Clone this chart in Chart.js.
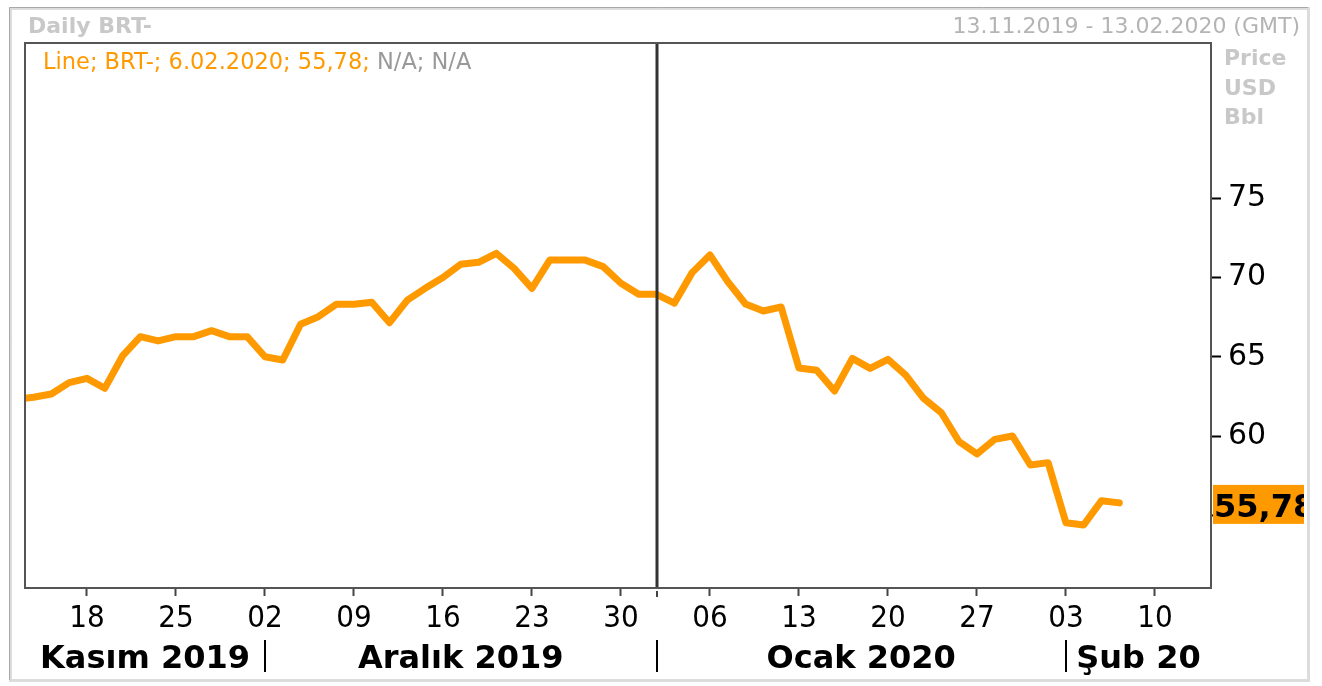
<!DOCTYPE html>
<html lang="tr">
<head>
<meta charset="UTF-8">
<title>Daily BRT-</title>
<script src="https://cdn.jsdelivr.net/npm/chart.js"></script>
<style>
    body { margin: 0; background: #fff; }
    #wrap { width: 1322px; height: 686px; position: relative; }
</style>
</head>
<body>
<div id="wrap"><canvas id="grafico"></canvas></div>

<script>
    // trading days (weekdays, holidays included) and BRT- closing price
    const dias = [
        '2019-11-12', '2019-11-13', '2019-11-14', '2019-11-15',
        '2019-11-18', '2019-11-19', '2019-11-20', '2019-11-21', '2019-11-22',
        '2019-11-25', '2019-11-26', '2019-11-27', '2019-11-28', '2019-11-29',
        '2019-12-02', '2019-12-03', '2019-12-04', '2019-12-05', '2019-12-06',
        '2019-12-09', '2019-12-10', '2019-12-11', '2019-12-12', '2019-12-13',
        '2019-12-16', '2019-12-17', '2019-12-18', '2019-12-19', '2019-12-20',
        '2019-12-23', '2019-12-24', '2019-12-25', '2019-12-26', '2019-12-27',
        '2019-12-30', '2019-12-31', '2020-01-01', '2020-01-02', '2020-01-03',
        '2020-01-06', '2020-01-07', '2020-01-08', '2020-01-09', '2020-01-10',
        '2020-01-13', '2020-01-14', '2020-01-15', '2020-01-16', '2020-01-17',
        '2020-01-20', '2020-01-21', '2020-01-22', '2020-01-23', '2020-01-24',
        '2020-01-27', '2020-01-28', '2020-01-29', '2020-01-30', '2020-01-31',
        '2020-02-03', '2020-02-04', '2020-02-05', '2020-02-06'
    ];
    const precos = [
        62.30, 62.45, 62.65, 63.37,
        63.64, 63.01, 65.05, 66.27, 66.00,
        66.27, 66.27, 66.65, 66.27, 66.27,
        65.00, 64.80, 67.05, 67.53, 68.31,
        68.31, 68.44, 67.15, 68.58, 69.32,
        70.00, 70.84, 70.96, 71.53, 70.58,
        69.32, 71.10, 71.10, 71.10, 70.69,
        69.64, 68.94, 68.94, 68.38, 70.31,
        71.42, 69.74, 68.33, 67.89, 68.14,
        64.29, 64.15, 62.84, 64.90, 64.27,
        64.84, 63.85, 62.38, 61.47, 59.64,
        58.87, 59.79, 60.00, 58.17, 58.32,
        54.53, 54.39, 55.92, 55.78
    ];

    const yTicks = [55, 60, 65, 70, 75];
    const xTickDias = ['2019-11-18', '2019-11-25', '2019-12-02', '2019-12-09', '2019-12-16',
        '2019-12-23', '2019-12-30', '2020-01-06', '2020-01-13', '2020-01-20',
        '2020-01-27', '2020-02-03', '2020-02-10'];
    const xTickLabels = ['18', '25', '02', '09', '16', '23', '30', '06', '13', '20', '27', '03', '10'];

    const meses = ['Kasım 2019', 'Aralık 2019', 'Ocak 2020', 'Şub 20'];
    const inicioMes = ['2019-12-02', '2020-01-01', '2020-02-03'];
    const viradaAno = '2020-01-01';

    const ultimoValor = '55,78';
    const legenda = 'Line; BRT-; 6.02.2020; 55,78; ';
    const legendaNA = 'N/A; N/A';

    // weekday index counted from 18.11.2019
    function indiceDia(str) {
        const base = Date.UTC(2019, 10, 18);
        const p = str.split('-').map(Number);
        const d = Date.UTC(p[0], p[1] - 1, p[2]);
        const dias = Math.round((d - base) / 86400000);
        const semanas = Math.floor(dias / 7);
        return semanas * 5 + (dias - semanas * 7);
    }

    const pontos = dias.map((d, i) => ({ x: indiceDia(d), y: precos[i] }));
    const xTickIdx = xTickDias.map(indiceDia);

    const laranja = '#ff9900';

    const desenhos = {
        id: 'desenhos',
        beforeDraw(chart) {
            const ctx = chart.ctx;
            ctx.save();
            ctx.fillStyle = '#fff';
            ctx.fillRect(0, 0, chart.width, chart.height);
            ctx.strokeStyle = '#dcdcdc';
            ctx.lineWidth = 3;
            ctx.strokeRect(10.5, 8.5, 1298, 672);
            ctx.strokeStyle = '#a8a8a8';
            ctx.lineWidth = 1;
            ctx.beginPath();
            ctx.moveTo(9.5, 680); ctx.lineTo(9.5, 7.5); ctx.lineTo(1308, 7.5);
            ctx.stroke();
            ctx.restore();
        },
        afterDatasetsDraw(chart) {
            const ctx = chart.ctx;
            const a = chart.chartArea;
            const x = chart.scales.x;
            ctx.save();
            // year separator
            const xv = Math.round(x.getPixelForValue(indiceDia(viradaAno)));
            ctx.strokeStyle = '#333';
            ctx.lineWidth = 3;
            ctx.beginPath();
            ctx.moveTo(xv, a.top); ctx.lineTo(xv, a.bottom);
            ctx.stroke();
            // plot frame
            ctx.strokeStyle = '#555';
            ctx.lineWidth = 2;
            ctx.strokeRect(a.left, a.top, a.right - a.left, a.bottom - a.top);
            ctx.restore();
        },
        afterDraw(chart) {
            const ctx = chart.ctx;
            const a = chart.chartArea;
            const x = chart.scales.x;
            const y = chart.scales.y;
            ctx.save();
            ctx.textBaseline = 'alphabetic';

            ctx.fillStyle = '#c8c8c8';
            ctx.font = 'bold 22px "DejaVu Sans"';
            ctx.textAlign = 'left';
            ctx.fillText('Daily BRT-', 28, 33);
            ctx.fillText('Price', 1224, 65);
            ctx.fillText('USD', 1224, 95);
            ctx.fillText('Bbl', 1224, 124);

            ctx.fillStyle = '#b4b4b4';
            ctx.font = '22px "DejaVu Sans"';
            ctx.textAlign = 'right';
            ctx.fillText('13.11.2019 - 13.02.2020 (GMT)', 1300, 33);

            ctx.textAlign = 'left';
            ctx.font = '22.5px "DejaVu Sans"';
            ctx.fillStyle = laranja;
            ctx.fillText(legenda, 43, 69);
            const w = ctx.measureText(legenda).width;
            ctx.fillStyle = '#999';
            ctx.fillText(legendaNA, 43 + w, 69);

            // last value box
            const yv = y.getPixelForValue(precos[precos.length - 1]);
            ctx.fillStyle = laranja;
            ctx.fillRect(a.right + 2, yv - 18, 91, 39);
            ctx.save();
            ctx.beginPath();
            ctx.rect(a.right + 2, yv - 18, 91, 39);
            ctx.clip();
            ctx.fillStyle = '#000';
            ctx.font = 'bold 32px "DejaVu Sans"';
            ctx.fillText(ultimoValor, a.right + 3, yv + 14);
            ctx.restore();

            // month row
            const seps = [a.left].concat(inicioMes.map(d => x.getPixelForValue(indiceDia(d))), [a.right]);
            ctx.strokeStyle = '#000';
            ctx.lineWidth = 2;
            for (let i = 1; i < seps.length - 1; i++) {
                const sx = Math.round(seps[i]);
                ctx.beginPath();
                ctx.moveTo(sx, 640); ctx.lineTo(sx, 672);
                ctx.stroke();
            }
            const xj = Math.round(x.getPixelForValue(indiceDia(viradaAno)));
            ctx.strokeStyle = '#444';
            ctx.beginPath();
            ctx.moveTo(xj, a.bottom + 3); ctx.lineTo(xj, a.bottom + 9);
            ctx.stroke();

            ctx.fillStyle = '#000';
            ctx.font = 'bold 32px "DejaVu Sans"';
            ctx.textAlign = 'center';
            meses.forEach((m, i) => {
                ctx.fillText(m, (seps[i] + seps[i + 1]) / 2, 668);
            });
            ctx.restore();
        }
    };

    const config = {
        type: 'line',
        data: {
            datasets: [{
                label: 'BRT-',
                data: pontos,
                borderColor: laranja,
                borderWidth: 7,
                borderJoinStyle: 'round',
                borderCapStyle: 'round',
                pointRadius: 0,
                tension: 0,
                fill: false,
                clip: 0
            }]
        },
        options: {
            responsive: true,
            maintainAspectRatio: false,
            animation: false,
            layout: { padding: { left: 25, top: 43, right: 0, bottom: 0 } },
            plugins: {
                legend: { display: false },
                tooltip: { enabled: false }
            },
            scales: {
                x: {
                    type: 'linear',
                    min: -3.48,
                    max: 63.15,
                    afterFit: s => { s.height = 98; },
                    afterBuildTicks: s => { s.ticks = xTickIdx.map(v => ({ value: v })); },
                    border: { display: false },
                    grid: { drawOnChartArea: false, tickLength: 8, tickColor: '#444', tickWidth: 2 },
                    ticks: {
                        autoSkip: false,
                        maxRotation: 0,
                        padding: 4,
                        color: '#000',
                        font: { family: '"DejaVu Sans Condensed", "DejaVu Sans"', size: 31 },
                        callback: v => xTickLabels[xTickIdx.indexOf(v)]
                    }
                },
                y: {
                    position: 'right',
                    min: 50.41,
                    max: 84.8,
                    afterFit: s => { s.width = 111; },
                    afterBuildTicks: s => { s.ticks = yTicks.map(v => ({ value: v })); },
                    border: { display: false },
                    grid: { drawOnChartArea: false, tickLength: 10, tickColor: '#000', tickWidth: 2 },
                    ticks: {
                        padding: 7,
                        color: '#000',
                        font: { family: '"DejaVu Sans"', size: 30 }
                    }
                }
            }
        },
        plugins: [desenhos]
    };

    new Chart(document.getElementById('grafico'), config);
</script>
</body>
</html>
